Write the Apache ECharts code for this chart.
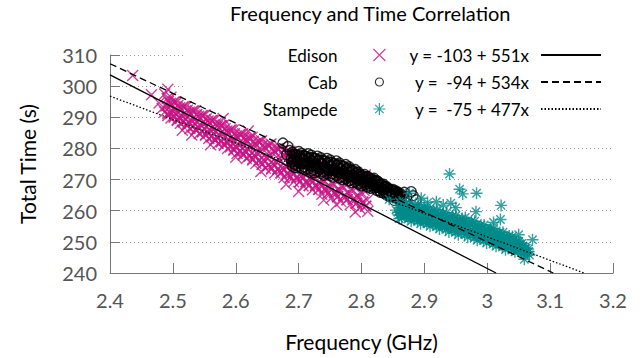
<!DOCTYPE html>
<html>
<head>
<meta charset="utf-8">
<script src="https://cdn.jsdelivr.net/npm/echarts@6/dist/echarts.min.js"></script>
<style>
html,body{margin:0;padding:0;background:#fff;}
#chart{width:642px;height:358px;}
</style>
</head>
<body>
<div id="chart"></div>
<script>
const FONT = 'Lato, "Open Sans", sans-serif';

const chartTitle = 'Frequency and Time Correlation';
const xAxisName = 'Frequency (GHz)';
const yAxisName = 'Total Time (s)';
const xTicks = { min: 2.4, max: 3.2, step: 0.1 };
const yTicks = { min: 240, max: 310, step: 10 };

const seriesNames = ['Edison', 'Cab', 'Stampede'];
const fitNames = ['y = -103 + 551x', 'y =  -94 + 534x', 'y =  -75 + 477x'];

const edison = [
[2.436,303.4],[2.466,297.2],[2.487,297.5],[2.478,294.6],[2.492,299.0],[2.497,296.4],[2.483,292.8],
[2.491,296.0],[2.489,293.6],[2.492,291.1],
[2.496,294.5],[2.494,291.6],[2.497,289.8],
[2.501,294.8],[2.499,292.1],[2.502,290.4],
[2.506,294.8],[2.504,292.2],[2.507,289.3],
[2.511,293.1],[2.509,290.0],[2.512,288.1],
[2.516,293.4],[2.514,290.6],[2.517,288.8],
[2.521,293.4],[2.519,290.7],[2.522,287.7],
[2.526,291.7],[2.524,288.5],[2.527,286.4],
[2.531,292.0],[2.529,289.1],[2.532,287.2],
[2.536,292.1],[2.534,289.2],[2.537,286.1],
[2.541,290.3],[2.539,286.9],[2.542,284.8],
[2.546,290.6],[2.544,287.6],[2.547,285.6],
[2.551,290.7],[2.549,287.7],[2.552,284.5],
[2.556,288.8],[2.554,285.4],[2.557,283.2],
[2.561,289.0],[2.559,286.0],[2.562,284.0],
[2.566,289.1],[2.564,286.1],[2.567,282.9],
[2.571,287.2],[2.569,283.8],[2.572,281.6],
[2.576,287.4],[2.574,284.4],[2.577,282.4],
[2.581,287.5],[2.579,284.5],[2.582,281.3],
[2.586,285.6],[2.584,282.2],[2.587,280.0],
[2.591,285.9],[2.589,282.9],[2.592,280.9],
[2.596,285.9],[2.594,282.9],[2.597,279.7],
[2.601,284.0],[2.599,280.6],[2.602,278.4],
[2.606,284.5],[2.604,281.4],[2.607,279.3],
[2.611,284.7],[2.609,281.5],[2.612,278.2],
[2.616,282.9],[2.614,279.2],[2.617,276.8],
[2.621,283.3],[2.619,280.0],[2.622,277.8],
[2.626,283.6],[2.624,280.3],[2.627,276.6],
[2.631,281.6],[2.629,277.7],[2.632,275.2],
[2.636,282.2],[2.634,278.7],[2.637,276.3],
[2.641,282.5],[2.639,278.9],[2.642,275.0],
[2.646,280.5],[2.644,276.3],[2.647,273.6],
[2.651,281.0],[2.649,277.2],[2.652,274.7],
[2.656,281.4],[2.654,277.6],[2.657,273.6],
[2.661,279.3],[2.659,274.9],[2.662,272.1],
[2.666,279.9],[2.664,276.0],[2.667,273.5],
[2.671,280.3],[2.669,276.4],[2.672,272.3],
[2.676,278.0],[2.674,273.6],[2.677,270.7],
[2.681,278.7],[2.679,274.7],[2.682,272.1],
[2.686,279.1],[2.684,275.1],[2.687,270.9],
[2.691,276.9],[2.689,272.3],[2.692,269.3],
[2.696,277.6],[2.694,273.5],[2.697,270.8],
[2.701,278.0],[2.699,273.9],[2.702,269.4],
[2.706,275.7],[2.704,271.0],[2.707,267.9],
[2.711,276.4],[2.709,272.2],[2.712,269.4],
[2.716,276.9],[2.714,272.7],[2.717,268.1],
[2.721,274.7],[2.719,269.8],[2.722,266.7],
[2.726,275.4],[2.724,271.1],[2.727,268.2],
[2.731,275.9],[2.729,271.6],[2.732,266.9],
[2.736,273.5],[2.734,268.6],[2.737,265.3],
[2.741,274.4],[2.739,270.0],[2.742,267.1],
[2.746,275.0],[2.744,270.5],[2.747,265.7],
[2.751,272.5],[2.749,267.4],[2.752,264.1],
[2.756,273.4],[2.754,268.9],[2.757,265.9],
[2.761,274.1],[2.759,269.5],[2.762,264.6],
[2.766,271.6],[2.764,266.3],[2.767,263.0],
[2.771,272.5],[2.769,267.9],[2.772,264.8],
[2.776,273.2],[2.774,268.5],[2.777,263.5],
[2.781,270.8],[2.779,265.4],[2.782,261.9],
[2.786,271.7],[2.784,267.0],[2.787,263.8],
[2.791,272.3],[2.789,267.5],[2.792,262.4],
[2.796,269.8],[2.794,264.3],[2.797,260.8],
[2.801,270.9],[2.799,266.0],[2.802,262.7],
[2.806,271.5],[2.804,266.6],[2.807,261.4],
[2.810,269.0],[2.809,263.4],[2.810,259.8],
[2.515,285.8],[2.560,281.2],[2.640,272.6],[2.700,266.2],[2.740,263.4],[2.580,289.6],
[2.620,285.6],[2.790,259.6],[2.530,284.3],[2.600,277.2],[2.680,268.5],[2.760,262.0],
[2.493,295.1],[2.487,291.7],[2.498,294.0],[2.492,290.6],[2.503,294.8],[2.497,291.2],
[2.508,293.8],[2.502,290.0],[2.513,292.6],[2.507,289.0],[2.518,293.4],[2.512,289.7],
[2.523,292.3],[2.517,288.5],[2.528,291.1],[2.522,287.4],[2.533,292.0],[2.527,288.2],
[2.538,290.9],[2.532,286.9],[2.543,289.7],[2.537,285.8],[2.548,290.6],[2.542,286.6],
[2.553,289.5],[2.547,285.3],[2.558,288.2],[2.552,284.2],[2.563,289.0],[2.557,285.0],
[2.568,287.9],[2.562,283.7],[2.573,286.6],[2.567,282.6],[2.578,287.4],[2.572,283.4],
[2.583,286.3],[2.577,282.1],[2.588,285.0],[2.582,281.0],[2.593,285.9],[2.587,281.9],
[2.598,284.7],[2.592,280.5],[2.603,283.4],[2.597,279.4],[2.608,284.5],[2.602,280.4],
[2.613,283.4],[2.607,279.0],[2.618,282.2],[2.612,277.9],[2.623,283.3],[2.617,278.9],
[2.628,282.3],[2.622,277.6],[2.633,280.9],[2.627,276.3],[2.638,282.2],[2.632,277.5],
[2.643,281.0],[2.637,276.0],[2.648,279.7],[2.642,274.8],[2.653,281.0],[2.647,276.0],
[2.658,279.9],[2.652,274.6],[2.663,278.5],[2.657,273.4],[2.668,279.9],[2.662,274.8],
[2.673,278.8],[2.667,273.3],[2.678,277.2],[2.672,272.0],[2.683,278.7],[2.677,273.4],
[2.688,277.5],[2.682,271.9],[2.693,276.1],[2.687,270.7],[2.698,277.6],[2.692,272.2],
[2.703,276.3],[2.697,270.6],[2.708,274.8],[2.702,269.3],[2.713,276.4],[2.707,270.8],
[2.718,275.2],[2.712,269.3],[2.723,273.8],[2.717,268.1],[2.728,275.4],[2.722,269.7],
[2.733,274.2],[2.727,268.1],[2.738,272.6],[2.732,266.8],[2.743,274.4],[2.737,268.5],
[2.748,273.2],[2.742,266.9],[2.753,271.6],[2.747,265.6],[2.758,273.4],[2.752,267.4],
[2.763,272.3],[2.757,265.8],[2.768,270.7],[2.762,264.5],[2.773,272.5],[2.767,266.3],
[2.778,271.3],[2.772,264.8],[2.783,269.8],[2.777,263.5],[2.788,271.7],[2.782,265.4],
[2.793,270.4],[2.787,263.7],[2.798,268.9],[2.792,262.4],[2.803,270.8],[2.797,264.3],
[2.808,269.6],[2.802,262.7],[2.810,268.0],[2.806,261.5]
];

const cab = [
[2.675,281.7],[2.683,280.6],[2.686,279.3],[2.681,278.0],[2.688,276.6],
[2.690,278.8],[2.691,277.3],[2.689,275.6],[2.690,274.3],
[2.695,278.0],[2.696,276.4],[2.694,274.8],[2.695,273.8],
[2.700,279.0],[2.701,277.5],[2.699,275.9],[2.700,274.3],
[2.705,278.4],[2.706,276.8],[2.704,275.1],[2.705,273.6],
[2.710,277.5],[2.711,275.8],[2.709,274.1],[2.710,273.1],
[2.715,278.3],[2.716,276.8],[2.714,275.1],[2.715,273.4],
[2.720,277.8],[2.721,276.1],[2.719,274.3],[2.720,272.8],
[2.725,276.7],[2.726,275.0],[2.724,273.3],[2.725,272.2],
[2.730,277.5],[2.731,276.0],[2.729,274.3],[2.730,272.6],
[2.735,277.0],[2.736,275.3],[2.734,273.5],[2.735,272.0],
[2.740,275.9],[2.741,274.2],[2.739,272.5],[2.740,271.4],
[2.745,276.8],[2.746,275.3],[2.744,273.6],[2.745,271.9],
[2.750,276.3],[2.751,274.6],[2.749,272.8],[2.750,271.3],
[2.755,275.1],[2.756,273.5],[2.754,271.9],[2.755,270.8],
[2.760,276.0],[2.761,274.5],[2.759,272.9],[2.760,271.3],
[2.765,275.3],[2.766,273.7],[2.764,272.0],[2.765,270.5],
[2.770,274.2],[2.771,272.6],[2.769,271.0],[2.770,270.0],
[2.775,274.8],[2.776,273.3],[2.774,271.8],[2.775,270.3],
[2.780,274.1],[2.781,272.6],[2.779,270.9],[2.780,269.6],
[2.785,272.8],[2.786,271.4],[2.784,270.0],[2.785,269.0],
[2.790,273.2],[2.791,271.9],[2.789,270.6],[2.790,269.2],
[2.795,272.4],[2.796,271.1],[2.794,269.8],[2.795,268.6],
[2.800,271.2],[2.801,270.0],[2.799,268.8],[2.800,268.0],
[2.805,271.6],[2.806,270.6],[2.804,269.4],[2.805,268.2],
[2.810,271.0],[2.811,269.9],[2.809,268.6],[2.810,267.6],
[2.815,270.1],[2.816,269.0],[2.814,267.9],[2.815,267.2],
[2.820,270.4],[2.821,269.4],[2.819,268.3],[2.820,267.3],
[2.825,269.5],[2.826,268.5],[2.824,267.4],[2.825,266.5],
[2.830,268.5],[2.831,267.5],[2.829,266.5],[2.830,265.9],
[2.835,268.5],[2.836,267.6],[2.834,266.7],[2.835,265.7],
[2.840,267.7],[2.841,266.8],[2.839,265.8],[2.840,265.0],
[2.845,266.7],[2.846,265.9],[2.844,265.1],[2.845,264.5],
[2.850,266.8],[2.851,266.1],[2.849,265.3],[2.850,264.5],
[2.855,266.3],[2.856,265.6],[2.854,264.8],[2.855,264.1],
[2.860,265.5],[2.861,264.8],[2.859,264.1],[2.860,263.6],
[2.826,269.4],[2.858,265.6],[2.863,263.5],[2.879,266.1],[2.887,263.5],
[2.870,262.6],[2.872,264.6],[2.868,265.9],[2.882,264.8],[2.852,263.3],
[2.692,278.0],[2.692,275.8],[2.697,278.0],[2.697,275.6],[2.702,277.9],[2.702,275.5],
[2.707,277.6],[2.707,275.2],[2.712,277.4],[2.712,275.0],[2.717,277.2],[2.717,274.7],
[2.722,277.0],[2.722,274.5],[2.727,276.7],[2.727,274.2],[2.732,276.4],[2.732,273.9],
[2.737,276.2],[2.737,273.7],[2.742,275.9],[2.742,273.4],[2.747,275.7],[2.747,273.2],
[2.752,275.5],[2.752,273.0],[2.757,275.1],[2.757,272.7],[2.762,274.9],[2.762,272.5],
[2.767,274.5],[2.767,272.1],[2.772,274.2],[2.772,271.8],[2.777,273.7],[2.777,271.4],
[2.782,273.3],[2.782,271.1],[2.787,272.8],[2.787,270.7],[2.792,272.3],[2.792,270.2],
[2.797,271.8],[2.797,269.9],[2.802,271.2],[2.802,269.4],[2.807,270.9],[2.807,269.1],
[2.812,270.4],[2.812,268.7],[2.817,270.1],[2.817,268.4],[2.822,269.7],[2.822,268.1],
[2.827,269.0],[2.827,267.5],[2.832,268.5],[2.832,267.0],[2.837,267.8],[2.837,266.4],
[2.842,267.2],[2.842,265.9],[2.847,266.7],[2.847,265.5],[2.852,266.3],[2.852,265.1],
[2.857,266.0],[2.857,264.8],[2.862,265.5],[2.862,264.4]
];

const stampede = [
[2.860,262.9],[2.861,261.0],[2.859,258.6],
[2.865,261.7],[2.866,259.3],[2.864,257.7],
[2.870,262.2],[2.871,260.0],[2.869,258.3],
[2.875,262.4],[2.876,260.1],[2.874,257.3],
[2.880,261.0],[2.881,258.3],[2.879,256.6],
[2.885,261.7],[2.886,259.2],[2.884,257.4],
[2.890,262.0],[2.891,259.5],[2.889,256.6],
[2.895,260.4],[2.896,257.6],[2.894,255.8],
[2.900,260.9],[2.901,258.4],[2.899,256.6],
[2.905,261.2],[2.906,258.7],[2.904,255.8],
[2.910,259.6],[2.911,256.8],[2.909,255.0],
[2.915,260.1],[2.916,257.6],[2.914,255.8],
[2.920,260.3],[2.921,257.8],[2.919,254.9],
[2.925,258.7],[2.926,255.9],[2.924,254.1],
[2.930,259.2],[2.931,256.7],[2.929,254.9],
[2.935,259.4],[2.936,256.9],[2.934,254.0],
[2.940,257.8],[2.941,255.0],[2.939,253.2],
[2.945,258.3],[2.946,255.8],[2.944,254.0],
[2.950,258.5],[2.951,256.0],[2.949,253.1],
[2.955,256.9],[2.956,254.1],[2.954,252.3],
[2.960,257.5],[2.961,255.0],[2.959,253.2],
[2.965,257.8],[2.966,255.3],[2.964,252.4],
[2.970,256.1],[2.971,253.3],[2.969,251.5],
[2.975,256.6],[2.976,254.1],[2.974,252.4],
[2.980,256.6],[2.981,254.2],[2.979,251.3],
[2.985,254.9],[2.986,252.2],[2.984,250.5],
[2.990,255.4],[2.991,253.0],[2.989,251.3],
[2.995,255.4],[2.996,253.1],[2.994,250.4],
[3.000,253.9],[3.001,251.3],[2.999,249.6],
[3.005,254.2],[3.006,251.9],[3.004,250.3],
[3.010,254.3],[3.011,252.0],[3.009,249.3],
[3.015,252.7],[3.016,250.2],[3.014,248.6],
[3.020,253.0],[3.021,250.9],[3.019,249.3],
[3.025,253.1],[3.026,250.9],[3.024,248.3],
[3.030,251.6],[3.031,249.1],[3.029,247.5],
[3.035,251.9],[3.036,249.8],[3.034,248.2],
[3.040,251.7],[3.041,249.8],[3.039,247.4],
[3.045,250.2],[3.046,248.1],[3.044,246.8],
[3.050,250.1],[3.051,248.5],[3.049,247.3],
[3.055,249.5],[3.056,248.2],[3.054,246.6],
[3.060,248.0],[3.061,246.8],[3.059,246.1],
[3.065,247.7],[3.066,246.9],[3.064,246.4],
[2.844,263.7],[2.876,265.6],[2.871,258.6],[2.871,259.3],[2.895,264.0],[2.919,262.9],
[2.942,262.4],[2.940,271.8],[2.956,266.9],[2.961,265.4],[2.983,265.6],[3.022,261.7],
[3.021,257.2],[2.982,259.7],[3.072,250.7],[3.067,245.8],[3.059,244.4],[2.862,262.4],
[2.905,262.6],[2.930,261.8],[2.950,261.0],[3.010,256.2],[3.050,252.3],[2.855,260.2],[2.860,257.5],
[2.862,261.7],[2.858,259.5],[2.867,261.5],[2.863,259.1],[2.872,261.3],[2.868,258.8],
[2.877,261.0],[2.873,258.4],[2.882,260.9],[2.878,258.2],[2.887,260.7],[2.883,257.9],
[2.892,260.5],[2.888,257.7],[2.897,260.2],[2.893,257.4],[2.902,259.9],[2.898,257.1],
[2.907,259.7],[2.903,256.9],[2.912,259.4],[2.908,256.6],[2.917,259.1],[2.913,256.3],
[2.922,258.8],[2.918,256.0],[2.927,258.5],[2.923,255.7],[2.932,258.2],[2.928,255.4],
[2.937,257.9],[2.933,255.1],[2.942,257.6],[2.938,254.8],[2.947,257.3],[2.943,254.5],
[2.952,257.0],[2.948,254.2],[2.957,256.7],[2.953,253.9],[2.962,256.5],[2.958,253.7],
[2.967,256.3],[2.963,253.5],[2.972,255.9],[2.968,253.1],[2.977,255.6],[2.973,252.8],
[2.982,255.2],[2.978,252.5],[2.987,254.8],[2.983,252.1],[2.992,254.4],[2.988,251.8],
[2.997,254.0],[2.993,251.4],[3.002,253.7],[2.998,251.2],[3.007,253.3],[3.003,250.8],
[3.012,252.9],[3.008,250.4],[3.017,252.6],[3.013,250.1],[3.022,252.2],[3.018,249.7],
[3.027,251.8],[3.023,249.3],[3.032,251.5],[3.028,249.0],[3.037,251.0],[3.033,248.6],
[3.042,250.5],[3.038,248.3],[3.047,250.1],[3.043,248.0],[3.052,249.4],[3.048,247.7],
[3.057,248.7],[3.053,247.2],[3.062,248.0],[3.058,246.8]
];

const edisonFit = [[2.4, 303.6], [3.014, 240]];
const cabFit = [[2.4, 307.2], [3.105, 240]];
const stampedeFit = [[2.4, 296.8], [3.154, 240]];

const colors = { edison: '#c71585', cab: '#000000', stampede: '#008b8b' };

const crossPath = 'path://M0,0L10,10M10,0L0,10';
const starPath = 'path://M5,0L5,10M0,5L10,5M1.5,1.5L8.5,8.5M8.5,1.5L1.5,8.5';
const smallCirclePath = 'path://M0,0M12,12M10,6A4,4,0,1,1,2,6A4,4,0,1,1,10,6Z';

const chart = echarts.init(document.getElementById('chart'), null, { renderer: 'svg' });

chart.setOption({
  animation: false,
  backgroundColor: '#ffffff',
  textStyle: { fontFamily: FONT },
  title: {
    text: chartTitle,
    left: 230, top: 3, padding: 0,
    textStyle: { fontFamily: FONT, fontSize: 20, fontWeight: 'normal', color: '#000' }
  },
  graphic: [{
    type: 'rect', left: 186, top: 44, silent: true, z: 1,
    shape: { width: 426, height: 78 },
    style: { fill: '#ffffff' }
  }],
  legend: [{
    data: [
      { name: seriesNames[0] },
      { name: seriesNames[1], icon: smallCirclePath },
      { name: seriesNames[2] }
    ],
    orient: 'vertical', align: 'right',
    right: 256, top: 45, padding: 0,
    itemWidth: 12, itemHeight: 12, itemGap: 7,
    selectedMode: false,
    textStyle: { fontFamily: FONT, fontSize: 17, color: '#000', lineHeight: 20, padding: [0, 31, 0, 0] },
    itemStyle: { borderWidth: 1.2 }
  }, {
    data: fitNames,
    orient: 'vertical', align: 'right',
    right: 40, top: 45, padding: 0,
    itemWidth: 60, itemHeight: 12, itemGap: 7,
    selectedMode: false,
    textStyle: { fontFamily: FONT, fontSize: 17, color: '#000', lineHeight: 20, padding: [0, 7, 0, 0] },
    itemStyle: { opacity: 0 }
  }],
  grid: { left: 110, right: 29, top: 55, bottom: 85, containLabel: false },
  xAxis: {
    type: 'value', min: xTicks.min, max: xTicks.max, interval: xTicks.step,
    name: xAxisName, nameLocation: 'middle', nameGap: 58,
    nameTextStyle: { fontFamily: FONT, fontSize: 21, color: '#000' },
    axisLine: { show: true, lineStyle: { color: '#777', width: 1 } },
    axisTick: { show: true, inside: true, length: 10, lineStyle: { color: '#777' } },
    axisLabel: { margin: 17, fontFamily: FONT, fontSize: 20, color: '#555',
      formatter: v => String(Math.round(v * 10) / 10) },
    splitLine: { show: false }
  },
  yAxis: {
    type: 'value', min: yTicks.min, max: yTicks.max, interval: yTicks.step,
    name: yAxisName, nameLocation: 'middle', nameGap: 72,
    nameTextStyle: { fontFamily: FONT, fontSize: 21, color: '#000' },
    axisLine: { show: true, lineStyle: { color: '#777', width: 1 } },
    axisTick: { show: true, inside: true, length: 10, lineStyle: { color: '#777' } },
    axisLabel: { margin: 13, fontFamily: FONT, fontSize: 20, color: '#555' },
    splitLine: { show: true, lineStyle: { color: '#999', width: 1, type: [1, 3] } }
  },
  series: [{
    name: seriesNames[0], type: 'scatter', data: edison,
    symbol: crossPath, symbolSize: 11, z: 2,
    itemStyle: { color: 'rgba(0,0,0,0)', borderColor: colors.edison, borderWidth: 1.4 }
  }, {
    name: seriesNames[1], type: 'scatter', data: cab,
    symbol: 'circle', symbolSize: 10, z: 2,
    itemStyle: { color: 'rgba(0,0,0,0)', borderColor: colors.cab, borderWidth: 1.4 }
  }, {
    name: seriesNames[2], type: 'scatter', data: stampede,
    symbol: starPath, symbolSize: 12, z: 2,
    itemStyle: { color: 'rgba(0,0,0,0)', borderColor: colors.stampede, borderWidth: 1.4 }
  }, {
    name: fitNames[0], type: 'line', data: edisonFit, symbol: 'none', z: 3,
    lineStyle: { color: '#000', width: 1.3, type: 'solid' }, itemStyle: { color: '#000' }
  }, {
    name: fitNames[1], type: 'line', data: cabFit, symbol: 'none', z: 3,
    lineStyle: { color: '#000', width: 1.3, type: [7, 4] }, itemStyle: { color: '#000' }
  }, {
    name: fitNames[2], type: 'line', data: stampedeFit, symbol: 'none', z: 3,
    lineStyle: { color: '#000', width: 1.3, type: [1.5, 2] }, itemStyle: { color: '#000' }
  }]
});
</script>
</body>
</html>
